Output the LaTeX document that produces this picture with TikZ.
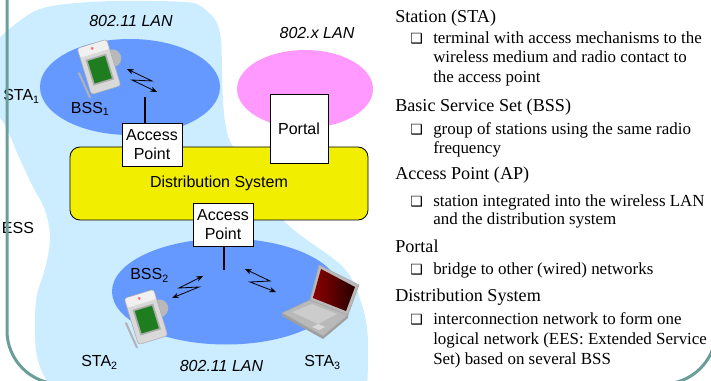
\documentclass[tikz,border=0pt]{standalone}
\usepackage{fontspec}
\setmainfont{Liberation Serif}
\setsansfont{Liberation Sans}
\newfontfamily\symfont{DejaVu Sans}
\usetikzlibrary{arrows.meta}

\definecolor{essblue}{HTML}{CCECFF}
\definecolor{bssblue}{HTML}{6699FF}
\definecolor{lanpink}{HTML}{FF99FF}
\definecolor{dsyellow}{HTML}{F2EE00}
\definecolor{frameteal}{HTML}{6A9E9A}
\definecolor{pdagreen}{HTML}{1E7D1E}

\newcommand{\lblfont}{\sffamily\fontsize{12}{14.5}\selectfont}
\newcommand{\headfont}{\rmfamily\fontsize{13.6}{16}\selectfont}
\newcommand{\itemfont}{\rmfamily\fontsize{12.7}{15}\selectfont}
\newcommand{\boxbullet}{{\symfont\fontsize{10.5}{10}\selectfont ❑}}

% handheld station, drawn around its centre
\newcommand{\pda}[1]{%
  \begin{scope}[shift={#1},rotate=-17,scale=1.1]
    \fill[gray!55] (14,-4) circle (8);
    \draw[gray!65, fill=gray!30, rounded corners=2pt] (-14,-22) rectangle (14,22);
    \fill[gray!12, rounded corners=1.5pt] (-13.5,-21.5) rectangle (13.5,-13);
    \fill[red!55] (-1,-18) circle (1.5);
    \draw[gray!65, line width=1.2pt, fill=pdagreen] (-9,-9) rectangle (9,14);
    \draw[gray!60, line width=1.5pt, line cap=round] (-19,0) -- (-16,24);
  \end{scope}}

\begin{document}
\begin{tikzpicture}[x=0.75pt,y=0.75pt,yscale=-1,xscale=1,
  lbl/.style={inner sep=0pt, font=\lblfont},
  apbox/.style={draw, fill=white, line width=0.6pt, inner sep=0pt, minimum width=45pt, minimum height=32.25pt, align=center, font=\lblfont},
  dsbox/.style={draw, fill=dsyellow, line width=0.6pt, rounded corners=7.5pt, minimum width=223.5pt, minimum height=54.75pt, font=\lblfont},
  radio/.style={line width=0.6pt, {Stealth[length=5pt,width=4pt]}-{Stealth[length=5pt,width=4pt]}},
  antenna/.style={line width=1.5pt},
  head/.style={anchor=base west, inner sep=0pt, font=\headfont},
  item/.style={anchor=base west, inner sep=0pt, font=\itemfont},
  sqbullet/.style={anchor=base west, inner sep=0pt}]
\useasboundingbox (0,0) rectangle (711,381);
\clip (0,0) rectangle (711,381);

%ESS area
\fill[essblue] plot[smooth, tension=0.55] coordinates {(-10,48) (8,30) (40,9) (90,2) (150,1) (193,3) (208,12) (217,23) (221,40) (222,67) (223,100) (226,127) (235,150) (283,220) (343,267) (362,305) (368,340) (367,392)}
  -- plot[smooth, tension=0.55] coordinates {(55,392) (42,372) (36,350) (35,320) (37,295) (46,265) (50,237) (45,210) (33,187) (18,155) (5,125) (-10,105)} -- cycle;

%BSS and LAN areas
\fill[bssblue] (130,87) ellipse (90 and 48);
\fill[lanpink] (305,89) ellipse (68 and 39);
\fill[bssblue] (226,291.5) ellipse (114 and 53);

% Distribution system, access points, portal
\node (ds) [dsbox] at (219,183.5) {Distribution System};
\node (ap1) [apbox] at (152,144.5) {Access\\Point};
\node (ap2) [apbox] at (223,224.5) {Access\\Point};
\node (portal) [apbox, minimum width=43.5pt, minimum height=51.75pt] at (299,128.5) {Portal};

\coordinate (ant1) at (145,97);
\coordinate (ant2) at (224,270);
\draw[antenna] (ant1) -- (ant1 |- ap1.north);
\draw[antenna] (ap2.south -| ant2) -- (ant2);

% stations
\pda{(99,67)}
\pda{(146,317)}

%laptop
\fill[gray!75] (282,313) -- (323,336) -- (348,315) -- (348,318) -- (323,339) -- (282,316) -- cycle;
\draw[gray!70, fill=gray!55] (282,313) -- (310,300) -- (348,315) -- (323,336) -- cycle;
\fill[gray!40] (292,312) -- (312,304) -- (337,314) -- (318,324) -- cycle;
\fill[gray!30] (312,327) -- (318,324) -- (325,327) -- (319,330) -- cycle;
\draw[gray!70, fill=gray!55] (310,300) -- (319,265) -- (359,285) -- (348,315) -- cycle;
\shade[left color=red!55!black, right color=black!85!red] (313,298) -- (321,269) -- (355,287) -- (346,311) -- cycle;

% radio links
\draw[radio] (127,69) -- (152,81) -- (132,80) -- (157,92);
\draw[radio] (203,276) -- (179,288) -- (199,287) -- (172,298);
\draw[radio] (245,269) -- (270,281) -- (250,282) -- (276,292);

% Text Node
\draw (131,26.7) node (lan1) [anchor=base][lbl] [font=\lblfont\itshape] {802.11 LAN};
\draw (317,38.3) node (lanx) [anchor=base][lbl] [font=\lblfont\itshape] {802.x LAN};
\draw (221.5,371.7) node (lan2) [anchor=base][lbl] [font=\lblfont\itshape] {802.11 LAN};
\draw (3,100.7) node (sta1) [anchor=base west][lbl] {STA\textsubscript{1}};
\draw (70.7,113.3) node (bss1) [anchor=base west][lbl] {BSS\textsubscript{1}};
\draw (1.7,233.3) node (ess) [anchor=base west][lbl] {ESS};
\draw (130,280) node (bss2) [anchor=base west][lbl] {BSS\textsubscript{2}};
\draw (81,366.7) node (sta2) [anchor=base west][lbl] {STA\textsubscript{2}};
\draw (304,366.7) node (sta3) [anchor=base west][lbl] {STA\textsubscript{3}};

%slide frame
\draw[frameteal, line width=2.25pt, rounded corners=40pt] (7,-120) rectangle (716,384);

% Text Node
\draw (395,22.7) node (hSta) [head] {Station (STA)};
\draw (410,43.3) node (bSta) [sqbullet] {\boxbullet};
\draw (433,43.3) node (tSta1) [item] {terminal with access mechanisms to the};
\draw (433,62.7) node (tSta2) [item] {wireless medium and radio contact to};
\draw (433,82.7) node (tSta3) [item] {the access point};
% Text Node
\draw (395,111.7) node (hBss) [head] {Basic Service Set (BSS)};
\draw (410,135) node (bBss) [sqbullet] {\boxbullet};
\draw (433,135) node (tBss1) [item] {group of stations using the same radio};
\draw (433,154) node (tBss2) [item] {frequency};
% Text Node
\draw (395,180) node (hAp) [head] {Access Point (AP)};
\draw (410,206.7) node (bAp) [sqbullet] {\boxbullet};
\draw (433,206.7) node (tAp1) [item] {station integrated into the wireless LAN};
\draw (433,225) node (tAp2) [item] {and the distribution system};
% Text Node
\draw (395,252.7) node (hPortal) [head] {Portal};
\draw (410,275) node (bPortal) [sqbullet] {\boxbullet};
\draw (433,275) node (tPortal) [item] {bridge to other (wired) networks};
% Text Node
\draw (395,301.7) node (hDs) [head] {Distribution System};
\draw (410,325) node (bDs) [sqbullet] {\boxbullet};
\draw (433,325) node (tDs1) [item] {interconnection network to form one};
\draw (433,344.3) node (tDs2) [item] {logical network (EES: Extended Service};
\draw (433,364) node (tDs3) [item] {Set) based on several BSS};

\end{tikzpicture}
\end{document}
